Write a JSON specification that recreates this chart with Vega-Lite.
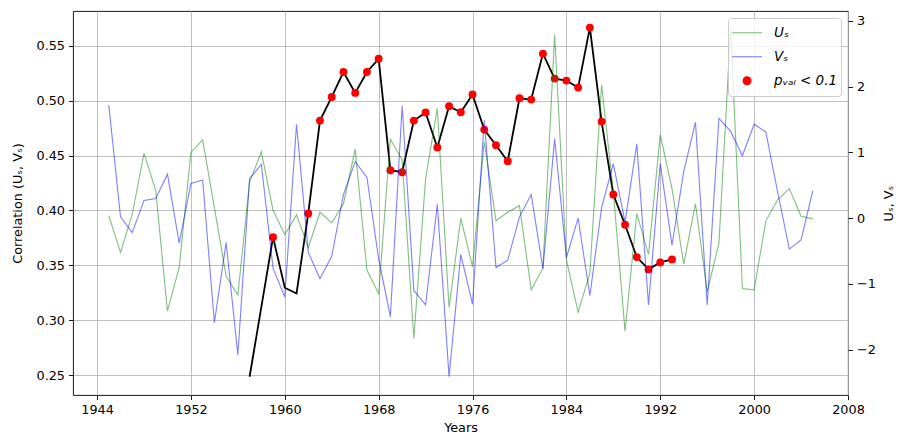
{
  "$schema": "https://vega.github.io/schema/vega-lite/v6.json",
  "width": 775,
  "height": 384,
  "autosize": "none",
  "padding": {"left": 73, "top": 11, "right": 62, "bottom": 53},
  "background": "white",
  "config": {
    "font": "DejaVu Sans",
    "view": {"stroke": "black", "strokeWidth": 0.9},
    "axis": {
      "labelFont": "DejaVu Sans", "labelFontSize": 12.8, "labelColor": "black",
      "titleFont": "DejaVu Sans", "titleFontSize": 12.8, "titleFontWeight": "normal", "titleColor": "black",
      "tickColor": "black", "tickSize": 4.5, "tickWidth": 0.9, "domain": false,
      "gridColor": "#b0b0b0", "gridWidth": 0.8, "gridOpacity": 1,
      "labelPadding": 4, "labelFlush": false, "labelOverlap": false
    },
    "legend": {
      "title": null, "orient": "top-right", "offset": 7,
      "fillColor": "rgba(255,255,255,0.8)", "strokeColor": "#cccccc", "cornerRadius": 3, "padding": 3,
      "labelFont": "DejaVu Sans", "labelFontSize": 13.5, "labelColor": "black", "labelFontStyle": "italic",
      "symbolStrokeWidth": 1.1, "labelOffset": 11, "rowPadding": 0, "clipHeight": 23.5
    }
  },
  "datasets": {
    "corr": [
      {"year": 1957, "r": 0.2487, "sig": false},
      {"year": 1958, "r": 0.312, "sig": false},
      {"year": 1959, "r": 0.3757, "sig": true},
      {"year": 1960, "r": 0.3297, "sig": false},
      {"year": 1961, "r": 0.3245, "sig": false},
      {"year": 1962, "r": 0.3973, "sig": true},
      {"year": 1963, "r": 0.4818, "sig": true},
      {"year": 1964, "r": 0.5033, "sig": true},
      {"year": 1965, "r": 0.526, "sig": true},
      {"year": 1966, "r": 0.507, "sig": true},
      {"year": 1967, "r": 0.526, "sig": true},
      {"year": 1968, "r": 0.538, "sig": true},
      {"year": 1969, "r": 0.4366, "sig": true},
      {"year": 1970, "r": 0.4348, "sig": true},
      {"year": 1971, "r": 0.4818, "sig": true},
      {"year": 1972, "r": 0.4891, "sig": true},
      {"year": 1973, "r": 0.4573, "sig": true},
      {"year": 1974, "r": 0.4948, "sig": true},
      {"year": 1975, "r": 0.4894, "sig": true},
      {"year": 1976, "r": 0.5055, "sig": true},
      {"year": 1977, "r": 0.4736, "sig": true},
      {"year": 1978, "r": 0.4594, "sig": true},
      {"year": 1979, "r": 0.4448, "sig": true},
      {"year": 1980, "r": 0.5021, "sig": true},
      {"year": 1981, "r": 0.5009, "sig": true},
      {"year": 1982, "r": 0.5427, "sig": true},
      {"year": 1983, "r": 0.52, "sig": true},
      {"year": 1984, "r": 0.5182, "sig": true},
      {"year": 1985, "r": 0.5118, "sig": true},
      {"year": 1986, "r": 0.5664, "sig": true},
      {"year": 1987, "r": 0.4809, "sig": true},
      {"year": 1988, "r": 0.4145, "sig": true},
      {"year": 1989, "r": 0.387, "sig": true},
      {"year": 1990, "r": 0.3576, "sig": true},
      {"year": 1991, "r": 0.3464, "sig": true},
      {"year": 1992, "r": 0.3527, "sig": true},
      {"year": 1993, "r": 0.3555, "sig": true}
    ],
    "uv": [
      {"year": 1945, "U_s": 0.04, "V_s": 1.72},
      {"year": 1946, "U_s": -0.52, "V_s": 0.02},
      {"year": 1947, "U_s": 0.06, "V_s": -0.22},
      {"year": 1948, "U_s": 0.99, "V_s": 0.27},
      {"year": 1949, "U_s": 0.42, "V_s": 0.3},
      {"year": 1950, "U_s": -1.41, "V_s": 0.67},
      {"year": 1951, "U_s": -0.75, "V_s": -0.38},
      {"year": 1952, "U_s": 1.0, "V_s": 0.53},
      {"year": 1953, "U_s": 1.19, "V_s": 0.58},
      {"year": 1954, "U_s": 0.16, "V_s": -1.59},
      {"year": 1955, "U_s": -0.88, "V_s": -0.37},
      {"year": 1956, "U_s": -1.17, "V_s": -2.08},
      {"year": 1957, "U_s": 0.55, "V_s": 0.6},
      {"year": 1958, "U_s": 1.01, "V_s": 0.82},
      {"year": 1959, "U_s": 0.12, "V_s": -0.76},
      {"year": 1960, "U_s": -0.25, "V_s": -1.2},
      {"year": 1961, "U_s": 0.05, "V_s": 1.43},
      {"year": 1962, "U_s": -0.45, "V_s": -0.52},
      {"year": 1963, "U_s": 0.09, "V_s": -0.92},
      {"year": 1964, "U_s": -0.07, "V_s": -0.58},
      {"year": 1965, "U_s": 0.22, "V_s": 0.36},
      {"year": 1966, "U_s": 1.05, "V_s": 0.86},
      {"year": 1967, "U_s": -0.79, "V_s": 0.62},
      {"year": 1968, "U_s": -1.15, "V_s": -0.62},
      {"year": 1969, "U_s": 1.2, "V_s": -1.5},
      {"year": 1970, "U_s": 0.89, "V_s": 1.71},
      {"year": 1971, "U_s": -1.83, "V_s": -1.1},
      {"year": 1972, "U_s": 0.6, "V_s": -1.32},
      {"year": 1973, "U_s": 1.67, "V_s": 0.21},
      {"year": 1974, "U_s": -1.36, "V_s": -2.41},
      {"year": 1975, "U_s": 0.0, "V_s": -0.55},
      {"year": 1976, "U_s": -0.74, "V_s": -1.31},
      {"year": 1977, "U_s": 1.16, "V_s": 1.49},
      {"year": 1978, "U_s": -0.04, "V_s": -0.75},
      {"year": 1979, "U_s": 0.09, "V_s": -0.64},
      {"year": 1980, "U_s": 0.19, "V_s": 0.02},
      {"year": 1981, "U_s": -1.09, "V_s": 0.36},
      {"year": 1982, "U_s": -0.76, "V_s": -0.77},
      {"year": 1983, "U_s": 2.79, "V_s": 1.21},
      {"year": 1984, "U_s": -0.63, "V_s": -0.6},
      {"year": 1985, "U_s": -1.43, "V_s": 0.0},
      {"year": 1986, "U_s": -0.84, "V_s": -1.18},
      {"year": 1987, "U_s": 2.03, "V_s": 0.16},
      {"year": 1988, "U_s": 0.4, "V_s": 0.83},
      {"year": 1989, "U_s": -1.72, "V_s": -0.06},
      {"year": 1990, "U_s": 0.07, "V_s": 1.13},
      {"year": 1991, "U_s": -0.55, "V_s": -1.32},
      {"year": 1992, "U_s": 1.27, "V_s": 0.83},
      {"year": 1993, "U_s": 0.45, "V_s": -0.41},
      {"year": 1994, "U_s": -0.7, "V_s": 0.71},
      {"year": 1995, "U_s": 0.22, "V_s": 1.46},
      {"year": 1996, "U_s": -1.12, "V_s": -1.32},
      {"year": 1997, "U_s": -0.38, "V_s": 1.52},
      {"year": 1998, "U_s": 2.89, "V_s": 1.32},
      {"year": 1999, "U_s": -1.07, "V_s": 0.95},
      {"year": 2000, "U_s": -1.09, "V_s": 1.43},
      {"year": 2001, "U_s": -0.04, "V_s": 1.31},
      {"year": 2002, "U_s": 0.28, "V_s": 0.4},
      {"year": 2003, "U_s": 0.45, "V_s": -0.47},
      {"year": 2004, "U_s": 0.03, "V_s": -0.33},
      {"year": 2005, "U_s": -0.01, "V_s": 0.42}
    ]
  },
  "encoding": {
    "x": {
      "field": "year", "type": "quantitative",
      "scale": {"domain": [1941.95, 2008], "nice": false, "zero": false},
      "axis": {"values": [1944, 1952, 1960, 1968, 1976, 1984, 1992, 2000, 2008], "format": "d", "title": "Years", "grid": true, "titlePadding": 5}
    }
  },
  "layer": [
    {
      "data": {"name": "corr"},
      "layer": [
        {
          "mark": {"type": "line", "color": "black", "strokeWidth": 1.8},
          "encoding": {
            "y": {
              "field": "r", "type": "quantitative",
              "scale": {"domain": [0.2321, 0.5815], "nice": false, "zero": false},
              "axis": {"values": [0.25, 0.3, 0.35, 0.4, 0.45, 0.5, 0.55], "format": ".2f", "title": "Correlation (Uₛ, Vₛ)", "grid": true, "orient": "left", "titlePadding": 12}
            }
          }
        },
        {
          "transform": [{"filter": "datum.sig"}],
          "mark": {"type": "point", "filled": true},
          "encoding": {
            "y": {"field": "r", "type": "quantitative"},
            "color": {
              "datum": "p", "type": "nominal",
              "scale": {"domain": ["U_s", "V_s", "p"], "range": ["#008000", "#0000ff", "#ff0000"]},
              "legend": {"labelExpr": "datum.value === 'U_s' ? 'Uₛ' : datum.value === 'V_s' ? 'Vₛ' : 'pᵥₐₗ < 0.1'"}
            },
            "shape": {
              "datum": "p", "type": "nominal",
              "scale": {"domain": ["U_s", "V_s", "p"], "range": ["stroke", "stroke", "circle"]},
              "legend": {"labelExpr": "datum.value === 'U_s' ? 'Uₛ' : datum.value === 'V_s' ? 'Vₛ' : 'pᵥₐₗ < 0.1'"}
            },
            "size": {
              "datum": "p", "type": "nominal",
              "scale": {"type": "ordinal", "domain": ["U_s", "V_s", "p"], "range": [900, 900, 62]},
              "legend": {"labelExpr": "datum.value === 'U_s' ? 'Uₛ' : datum.value === 'V_s' ? 'Vₛ' : 'pᵥₐₗ < 0.1'"}
            },
            "opacity": {
              "datum": "p", "type": "nominal",
              "scale": {"type": "ordinal", "domain": ["U_s", "V_s", "p"], "range": [0.5, 0.5, 1]},
              "legend": {"labelExpr": "datum.value === 'U_s' ? 'Uₛ' : datum.value === 'V_s' ? 'Vₛ' : 'pᵥₐₗ < 0.1'"}
            }
          }
        }
      ]
    },
    {
      "data": {"name": "uv"},
      "transform": [{"fold": ["U_s", "V_s"], "as": ["series", "value"]}],
      "mark": {"type": "line", "strokeWidth": 1.1, "opacity": 0.5},
      "encoding": {
        "y": {
          "field": "value", "type": "quantitative",
          "scale": {"domain": [-2.69, 3.152], "nice": false, "zero": false},
          "axis": {"values": [-2, -1, 0, 1, 2, 3], "format": "d", "title": "Uₛ, Vₛ", "grid": false, "orient": "right", "titleAngle": 270, "titleBaseline": "top", "titlePadding": 7}
        },
        "color": {
          "field": "series", "type": "nominal",
          "scale": {"domain": ["U_s", "V_s", "p"], "range": ["#008000", "#0000ff", "#ff0000"]},
          "legend": {"labelExpr": "datum.value === 'U_s' ? 'Uₛ' : datum.value === 'V_s' ? 'Vₛ' : 'pᵥₐₗ < 0.1'"}
        }
      }
    }
  ],
  "resolve": {"scale": {"y": "independent"}}
}
